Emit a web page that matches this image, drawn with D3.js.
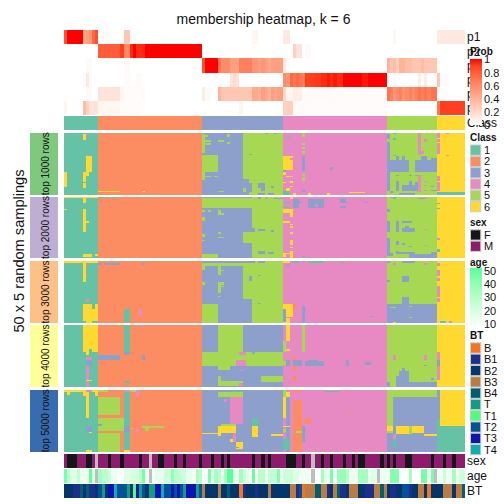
<!DOCTYPE html>
<html><head><meta charset="utf-8">
<script src="https://cdn.jsdelivr.net/npm/d3@7"></script>
<style>html,body{margin:0;padding:0;background:#fff}svg{display:block}text{font-family:"Liberation Sans",Arial,sans-serif;fill:#111}</style>
</head><body><svg id="c" width="504" height="504"></svg>
<script>
const classNames=["1","2","3","4","5","6"];
const classColors=["#66C2A5","#FC8D62","#8DA0CB","#E78AC3","#A6D854","#FFD92F"];
const classSizes=[11,33,26,33,16,9];
const blockNames=["top 1000 rows","top 2000 rows","top 3000 rows","top 4000 rows","top 5000 rows"];
const blockColors=["#7FC97F","#BEAED4","#FDC086","#FFFF99","#386CB0"];
const Z=v=>v; 
const p1=[.85,1,1,1,1,1,.45,.5,.55,.75,.85,
0,0,0,0,0,0,0,0,.3,.3,0,0,0,0,0,0,0,0,0,0,0,0,0,0,0,0,0,0,0,0,0,0,0,
0,0,0,0,0,0,0,0,0,0,0,0,0,0,0,0,.05,.05,0,0,0,0,0,0,0,0,
.12,.12,0,0,0,0,0,0,0,0,0,0,0,0,0,0,0,0,0,0,0,0,0,0,0,0,0,0,0,0,0,0,0,
0,0,.05,0,0,0,0,0,0,0,0,0,0,0,0,0,
.12,.12,.12,.12,.12,.12,.12,.12,.12];
const p2=[0,0,0,0,0,0,0,0,0,0,0,
.8,.8,.8,.8,.8,.8,.8,.9,.6,.6,.95,1,.95,.95,.95,1,1,1,1,1,1,1,1,1,1,1,1,1,1,1,1,1,1,
0,0,0,0,0,0,0,0,0,0,0,0,0,0,0,0,0,0,0,0,0,0,0,0,0,0,
0,0,0,.25,.15,.15,0,.03,.03,0,0,0,0,0,0,0,0,0,0,0,0,0,0,0,0,0,0,0,0,0,0,0,0,
0,0,0,0,0,0,0,0,0,0,0,0,0,0,0,0,
0,0,0,0,0,0,0,0,0];
const p3=[0,0,0,0,0,0,0,.03,.03,0,0,
0,0,0,0,0,0,0,0,.03,.03,0,0,0,0,0,0,0,0,0,0,0,0,0,0,0,0,0,0,0,0,0,0,0,
.85,1,1,1,1,.7,.6,.6,.6,.5,.5,.5,.65,.65,.65,.65,.55,.55,.5,.55,.5,.45,.5,.5,.5,.5,
.1,.03,0,0,0,0,0,0,0,0,0,0,0,0,0,0,0,0,0,0,0,0,0,0,0,0,0,0,0,0,0,0,0,
.4,.3,.35,.25,.4,.4,.35,.35,.3,.3,.3,.35,.3,.3,.3,.3,
.03,0,0,0,0,0,0,0,0];
const p4=[0,0,0,0,0,0,0,.12,.02,0,0,
0,0,0,0,0,0,0,0,.02,.02,0,0,.03,.03,0,0,0,0,0,0,0,0,0,0,0,0,0,0,0,0,0,0,0,
0,0,0,0,0,0,0,0,0,.15,.2,.15,0,0,0,0,0,0,0,0,0,0,0,0,0,0,
.6,.55,.75,.7,.75,.7,.65,.9,.9,.9,.92,.92,.95,.95,.98,.95,.98,.95,.95,1,1,1,1,1,1,.98,.98,1,1,1,1,1,1,
0,0,.02,0,0,0,0,0,0,0,.1,0,.1,0,0,0,
.3,.02,.02,.02,0,0,0,0,0];
const p5=[0,0,0,0,0,0,0,.03,.03,0,0,
.15,.15,.15,.15,.15,.15,.15,.05,.02,.02,.02,.02,.02,.02,.03,0,0,0,0,0,0,0,0,0,0,0,0,0,0,0,0,0,0,
.1,.03,.03,0,0,.4,.3,.3,.3,.3,.3,.3,.3,.3,.3,.3,.45,.45,.4,.5,.45,.4,.5,.45,.5,.5,
.2,.05,.05,.1,.1,.1,.01,.03,.03,.03,.03,.03,.03,.03,.03,.03,.02,.02,.02,.02,.02,.02,.02,.02,.02,.02,.02,.02,.02,.02,.02,.02,.02,
.7,.65,.55,.6,.65,.55,.6,.65,.6,.65,.7,.65,.7,.65,.7,.7,
.02,0,0,0,0,0,0,0,0];
const p6=[.05,0,0,0,0,0,.35,.25,.15,.15,.15,
.05,.05,.05,.05,.05,.05,.05,.02,.02,.02,.02,.02,.02,.02,0,0,0,0,0,0,0,0,0,0,0,0,0,0,0,0,0,0,0,
0,0,0,0,0,0,0,0,0,0,0,0,.05,0,0,0,0,0,0,0,0,0,0,0,0,0,
.25,.25,.25,.03,.03,.03,.03,.02,.02,.02,.02,.02,.02,.02,.02,.02,.02,.02,.02,.02,.02,.02,.02,.02,.02,.02,.02,.02,.02,.02,.02,.02,.02,
.01,.01,0,0,0,0,0,0,0,0,0,0,0,0,0,0,
.7,.9,.9,.9,.9,.9,.9,.9,.9];
const probRows=[p1,p2,p3,p4,p5,p6];
const probNames=["p1","p2","p3","p4","p5","p6"];

// [class, firstColumn, endColumn, firstRow, endRow]
const cells1=[[6,6,7,1,6],[4,7,8,1,2],[4,7,8,18,19],[6,7,9,19,32],[6,6,8,32,35],[6,6,7,35,40],[6,6,7,41,45],[6,0,1,32,44],
[6,11,18,47,48],[6,25,26,47,48],
[5,44,45,1,16],[5,45,46,2,3],[5,45,47,6,7],[5,45,47,8,10],[5,49,51,6,7],[5,52,53,1,3],[5,52,53,7,9],[5,44,49,18,32],[5,44,45,32,38],[5,45,47,35,36],[5,48,49,35,36],[5,49,51,47,48],
[5,57,70,0,37],[5,59,70,37,50],[5,57,58,45,48],
[3,64,65,0,1],[3,67,68,0,1],[3,59,60,17,18],[3,59,60,41,48],[3,62,64,41,45],[3,66,67,43,45],[3,63,64,45,47],[3,62,64,49,50],[3,65,67,49,50],
[6,70,73,19,30],[4,72,73,20,22],[3,70,71,30,32],[6,70,71,32,34],[6,71,73,35,36],[6,72,73,39,41],[6,72,73,43,44],[6,70,71,40,41],[6,71,72,45,48],[1,71,72,3,4],[1,70,72,47,50],[6,73,74,49,50],[6,78,79,49,50],[6,84,85,49,50],[6,91,96,48,49],
[5,76,77,0,3],[5,76,77,8,10],[5,76,77,11,13],[5,76,77,15,17],[3,76,77,19,31],[5,76,77,33,35],[5,76,77,36,39],[3,76,77,46,48],[3,85,86,28,30],
[3,103,104,1,5],[3,103,104,7,47],[1,105,106,0,1],[1,105,106,4,6],[1,105,106,18,19],[4,113,114,0,18],[4,115,116,5,7],[4,114,115,15,17],[4,113,114,34,48],[4,115,116,39,40],[4,115,116,42,43],[4,115,116,46,47],
[3,103,110,22,32],[3,106,107,19,22],[3,108,109,19,22],[3,112,119,22,32],[3,114,116,19,22],[3,117,119,20,22],[3,106,107,39,47],[3,108,113,42,47],[3,110,111,39,42],[3,112,113,40,42],[3,106,107,34,35],[3,110,111,34,35],[3,112,113,34,35],[3,117,119,46,47],[3,117,118,43,44],[3,104,105,47,49],[3,107,112,49,50],
[4,119,120,0,4],[4,119,120,5,7],[4,119,120,8,17],[4,119,120,35,39],[4,119,120,40,47],[4,122,123,0,1],[4,122,123,18,19],[1,119,128,48,50]];
const cells2=[[6,0,11,0,1],[1,11,18,0,1],[1,25,26,0,1],[6,6,7,1,5],[6,0,1,10,11],[6,6,7,10,29],[6,7,8,20,21],[6,6,9,47,49],[6,10,11,47,48],
[5,44,60,1,9],[5,44,45,11,12],[5,46,47,11,12],[5,49,50,11,13],[5,49,51,13,15],[5,44,45,16,20],[5,44,45,30,33],[5,49,50,29,30],[5,44,45,35,36],[5,49,51,33,34],[5,57,60,29,38],[5,44,49,47,50],
[5,60,70,0,50],[3,62,63,0,2],[3,64,65,1,2],[3,67,70,1,2],[3,59,60,20,21],[3,59,61,25,29],[3,62,64,26,28],[3,66,67,27,29],[3,59,60,40,45],[3,62,64,44,47],[3,65,67,45,47],
[6,70,73,10,13],[6,72,73,13,16],[1,70,72,4,5],[1,70,72,8,9],[6,70,72,20,21],[6,72,73,22,23],[6,72,73,24,25],[6,72,73,29,30],[6,72,73,35,39],[6,72,73,41,42],[6,70,72,46,47],[6,72,73,44,50],[6,72,73,0,2],[6,70,71,47,49],[2,73,74,48,49],[3,76,77,48,49],
[3,73,75,2,9],[3,75,76,4,5],[3,78,83,2,9],[4,80,81,6,8],[3,88,90,2,5],[3,88,90,7,9],[3,90,91,4,5],[3,96,97,4,5],
[3,103,104,10,12],[3,103,104,20,29],[3,103,104,34,46],[1,105,106,0,2],[3,104,105,0,1],[3,113,115,1,2],[4,115,116,0,2],[3,108,111,20,21],[3,108,112,25,29],[3,109,110,24,25],[4,115,116,26,27],[4,115,116,39,40],[3,106,107,20,29],[3,106,107,36,39],[3,108,109,38,39],[3,110,111,40,41],[3,106,107,44,46],[3,107,112,45,47],[3,103,105,46,48],[3,106,109,46,47],[3,110,119,47,50],
[1,119,120,5,6],[1,119,120,9,10],[4,119,120,34,35],[1,119,120,43,45],[3,117,119,45,50]];
const cells3=[[6,0,11,0,2],[6,6,7,2,17],[4,7,8,3,4],[4,7,8,11,12],[4,7,8,31,33],[6,6,11,35,48],[1,9,10,35,39],[6,7,9,48,50],
[3,11,12,2,3],[3,13,18,2,3],[3,25,26,2,3],[1,19,21,39,49],[4,24,25,39,45],
[5,44,60,2,4],[5,44,45,4,7],[5,49,50,4,11],[5,50,51,7,8],[5,44,45,17,19],[5,49,50,17,26],[5,50,51,17,19],[5,50,51,20,21],[5,49,50,28,29],[5,44,49,35,50],[5,57,60,3,31],
[5,60,70,0,50],[3,59,61,0,2],[3,62,64,0,2],[3,59,60,12,16],[3,62,63,11,12],[3,59,60,31,34],[3,62,63,34,35],
[1,73,75,0,2],[1,76,77,0,1],[1,78,83,0,2],[1,88,89,1,2],[6,70,72,0,2],[3,71,72,3,4],[2,73,74,28,29],[6,70,73,35,39],[2,73,74,35,39],[3,70,71,39,49],[6,71,73,39,45],[6,71,72,46,50],[6,70,71,49,50],[3,76,77,36,50],[3,98,99,44,45],
[3,103,104,0,2],[3,108,112,0,2],[4,105,106,2,3],[4,115,116,2,3],[3,103,104,15,17],[3,108,110,12,17],[3,108,110,29,35],[3,103,119,35,50],[5,104,106,37,38],[5,110,111,36,37],[5,110,111,45,46],[6,105,106,49,50],
[4,119,120,2,4],[4,119,120,7,12],[4,119,120,14,16],[4,119,120,20,29],[4,119,120,30,33],[1,120,122,48,50],[4,123,124,48,50]];
const cells4=[[6,6,11,0,22],[6,7,8,22,24],[1,8,9,19,22],[4,7,9,26,28],[3,7,9,28,33],[4,7,8,33,50],[6,7,9,44,45],
[1,19,21,0,22],[3,19,21,22,24],[4,24,25,0,2],[3,11,18,24,28],[3,25,26,24,28],[1,19,21,45,47],
[5,49,57,0,22],[5,44,70,22,33],[4,56,58,22,24],[4,55,58,28,33],[5,49,53,33,36],[4,56,57,36,37],[5,49,50,41,45],[5,49,57,45,49],[4,56,57,47,49],
[3,60,70,0,22],[1,60,61,22,23],[3,60,63,35,50],[5,63,70,41,46],[3,63,70,46,50],[3,60,70,46,50],
[6,71,72,0,13],[6,71,72,19,21],[5,70,71,13,22],[3,71,72,28,33],[5,70,71,29,32],[2,73,74,25,28],[2,73,74,33,37],[2,73,74,41,46],[3,73,76,28,33],[3,77,83,29,33],[3,78,81,28,29],[3,90,91,28,33],[3,96,98,30,32],[5,76,77,0,22],
[4,105,106,24,28],[4,115,116,24,28],[3,115,116,32,33],[3,107,110,37,45],[3,108,109,35,37],[3,106,107,41,45],[3,117,118,43,44],[3,106,110,45,47],[3,110,119,46,50],[3,103,104,46,50],[3,106,110,47,50],
[4,119,120,22,28],[3,119,120,28,33],[4,119,120,33,44]];
const cells5=[[6,0,7,0,2],[6,1,2,2,4],[6,6,8,2,5],[6,7,8,5,23],[6,9,11,0,2],[6,10,11,2,5],[4,7,9,0,2],[4,7,8,29,32],[3,7,9,29,34],[6,8,9,34,35],[6,7,9,49,50],
[5,11,18,6,20],[5,11,14,0,2],[5,11,19,23,29],[3,11,12,28,29],[5,11,19,29,33],[5,11,18,35,50],
[1,19,21,0,50],[4,19,21,0,2],[3,19,21,29,34],[6,19,21,49,50],[4,23,24,0,6],[4,23,24,32,35],[5,21,23,0,2],[5,21,22,31,32],[5,25,32,29,31],[5,26,27,31,33],
[5,49,57,2,6],[1,53,57,1,2],[4,51,52,7,10],[4,53,57,6,28],[4,54,55,35,42],[6,49,55,29,35],[5,50,55,28,29],[6,44,49,35,36],[6,49,50,35,37],[6,53,54,40,42],[6,55,57,42,48],[3,55,56,46,47],
[1,60,62,23,29],[6,60,62,29,38],[6,66,70,36,37],
[5,70,71,0,6],[6,71,72,2,6],[6,70,71,6,23],[3,71,72,6,50],[2,73,76,6,50],[4,73,76,6,8],[2,73,76,0,2],[6,70,72,29,30],[5,70,71,32,34],[1,70,72,40,49],[5,74,76,33,35],[3,76,77,29,42],[2,77,79,23,28],[1,83,88,1,2],[2,90,91,18,19],
[3,105,119,6,50],[5,105,119,2,6],[5,103,105,0,29],[6,103,105,29,33],[5,103,105,33,35],[3,103,105,35,50],[4,105,106,36,40],[1,105,106,40,47],
[6,106,110,29,36],[5,110,111,29,36],[6,111,115,29,35],[6,115,119,36,37],[1,119,120,23,29],[4,119,120,29,32],[3,119,120,0,23],[1,119,128,29,50]];
const blockCells=[cells1,cells2,cells3,cells4,cells5];

const sexCodes="MFFFMMMFFM"+"NMMMFMMMFM"+"MMMMFMMNMM"+"FFMMMFMMFM"+"MMMFMMMFMM"+"FMFMMMMMMM"+"FMMFMFMMMM"+"MFFFMMFMMN"+"MMFMMFMMMF"+"MMFMFFMMMM"+"MFMFMFMMMF"+"FMMMMMMFMM"+"MFMMFMMM";
const ageValues=[45,30,20,20,28,15,15,15,48,20,null,35,30,30,25,15,15,10,10,20,20,22,22,22,30,45,15,null,12,18,18,18,25,25,40,30,30,25,25,18,18,12,35,30,12,12,45,20,35,30,15,35,50,50,20,15,35,25,20,12,
48,12,30,30,15,28,28,28,42,15,25,25,25,20,20,15,15,15,15,null,10,10,35,20,15,45,12,38,38,38,30,15,15,15,35,35,35,15,20,20,null,15,15,15,42,42,42,12,12,12,35,10,10,10,45,45,15,45,null,15,15,25,15,15,35,15,25,25];
const btValues=["B2","B2","B2","B1","B1","B4","B2","B4","B1","B1","B2","T2","T","B2","T3","T3","T4","T2","T2","T2","T","B2","T1","T3","T","T2","B2","T","T","T3","T3","T4","T2","T2","T3","T2","T3","T2","T","T3","T3","T3","T","T2","B3","B2","B2","B2","B2","B3","B2","B2","B4","B2","B2","B2","B","B1","B2","B2","B2","B1","B2","B2","B2","B3","B2","B2","B2","B2","B2","B2","B3","B3","B1","T2","B","B3","B3","B3","B4","B4","B3","B3","B1","B2","B3","B4","B1","B1","B2","B3","B3","B3","B2","B2","B1","B1","B1","B3","B3","B4","B3","B2","B1","B1","B2","B2","T2","T2","B1","B2","B2","B3","B3","B2","B","B2","B2","B2","B2","B3","B3","B3","B2","B3","B3","B4"];
const btNames=["B","B1","B2","B3","B4","T","T1","T2","T3","T4"];
const btColors=["#F37521","#1C2F8F","#04356B","#B97D43","#005F73","#129D82","#4DFF7A","#035199","#0F13B5","#11ACAC"];
const sexNames=["F","M"];
const sexColors=["#141719","#8F1B6D"];
const naColor="#BEBEBE";
const ageTicks=[10,20,30,40,50];
const probTicks=[0,0.2,0.4,0.6,0.8,1];

const svg=d3.select("#c");
const nCols=d3.sum(classSizes);
const cols=d3.range(nCols);
const x=d3.scaleBand().domain(cols).range([64,465]);
const probColor=d3.scaleLinear().domain([0,1]).range(["#ffffff","#ff0000"]).interpolate(d3.interpolateLab);
const ageColor=d3.scaleLinear().domain([10,50]).range(["#ffffff","#55FF99"]).interpolate(d3.interpolateLab);
const classColor=d3.scaleOrdinal(classNames.map(Number),classColors);
const btColor=d3.scaleOrdinal(btNames,btColors);
const sexColor=d3.scaleOrdinal(sexNames,sexColors);
const baseClass=[];classSizes.forEach((n,i)=>{for(let k=0;k<n;k++)baseClass.push(i+1)});

function strip(y0,y1,colorOf){
  const g=svg.append("g").attr("shape-rendering","crispEdges");
  g.selectAll("rect").data(cols).join("rect")
   .attr("x",c=>x(c)).attr("width",x.bandwidth()+.01).attr("y",y0).attr("height",y1-y0).attr("fill",colorOf);
}
const probBand=d3.scaleBand().domain(probNames).range([30,115]);
probRows.forEach((row,i)=>{
  const n=probNames[i];
  strip(probBand(n),probBand(n)+probBand.bandwidth(),c=>probColor(row[c]));
});
strip(116,130,c=>classColor(baseClass[c]));

const blockY=[[133,194.5],[197,258],[261,323],[325,387],[390,451.5]];
blockCells.forEach((cells,b)=>{
  const rows=d3.range(50);
  const y=d3.scaleBand().domain(rows).range(blockY[b]);
  const m=rows.map(()=>baseClass.slice());
  cells.forEach(([k,c0,c1,r0,r1])=>{for(let r=r0;r<r1;r++)for(let c=c0;c<c1;c++)m[r][c]=k});
  const runs=[];
  rows.forEach(r=>{let s=0;for(let c=1;c<=nCols;c++){if(c===nCols||m[r][c]!==m[r][s]){runs.push({r,s,e:c,k:m[r][s]});s=c}}});
  svg.append("g").attr("shape-rendering","crispEdges").selectAll("rect").data(runs).join("rect")
   .attr("x",d=>x(d.s)).attr("width",d=>x(d.e-1)+x.bandwidth()-x(d.s))
   .attr("y",d=>y(d.r)).attr("height",y.bandwidth()+.01).attr("fill",d=>classColor(d.k));
  svg.append("rect").attr("x",30).attr("width",28).attr("y",blockY[b][0]).attr("height",blockY[b][1]-blockY[b][0]).attr("fill",blockColors[b]).attr("shape-rendering","crispEdges");
});
blockNames.forEach((t,b)=>{
  const cy=(blockY[b][0]+blockY[b][1])/2;
  svg.append("text").attr("transform",`translate(49,${cy}) rotate(-90)`).attr("text-anchor","middle").attr("font-size",10).text(t);
});
svg.append("text").attr("transform","translate(24,251) rotate(-90)").attr("text-anchor","middle").attr("font-size",14.6).text("50 x 5 random samplings");
svg.append("text").attr("x",263.5).attr("y",23.5).attr("text-anchor","middle").attr("font-size",14).text("membership heatmap, k = 6");

strip(454,468,c=>{const s=sexCodes[c];return s==="N"?naColor:sexColor(s)});
strip(469,483,c=>ageValues[c]==null?naColor:ageColor(ageValues[c]));
strip(484,498,c=>btColor(btValues[c]));

function label(t,y,size=12){svg.append("text").attr("x",467).attr("y",y).attr("dy","0.36em").attr("font-size",size).text(t)}
probNames.forEach(n=>label(n,probBand(n)+probBand.bandwidth()/2));
label("Class",123);
label("sex",461);label("age",476);label("BT",491);

// legends
function title(t,y){svg.append("text").attr("x",470).attr("y",y).attr("dy","0.36em").attr("font-size",10).attr("font-weight","bold").text(t)}
function ticks(t,y){svg.append("text").attr("x",484).attr("y",y).attr("dy","0.36em").attr("font-size",11).text(t)}
const defs=svg.append("defs");
function grad(id,scale,dom){
  const g=defs.append("linearGradient").attr("id",id).attr("x1",0).attr("y1",1).attr("x2",0).attr("y2",0);
  d3.range(0,1.001,.1).forEach(t=>g.append("stop").attr("offset",t).attr("stop-color",scale(dom[0]+t*(dom[1]-dom[0]))));
}
grad("gp",probColor,[0,1]);grad("ga",ageColor,[10,50]);
title("Prob",51.5);
const probY=d3.scaleLinear().domain([0,1]).range([125,59.5]);
svg.append("rect").attr("x",470).attr("width",12).attr("y",59).attr("height",66).attr("fill","url(#gp)");
probTicks.forEach(t=>ticks(String(t),probY(t)));

function swatches(names,colors,top,step){
  names.forEach((n,i)=>{
    svg.append("rect").attr("x",470.5).attr("y",top+i*step+.5).attr("width",step-1).attr("height",step-1).attr("fill",colors[i]).attr("stroke","#ccc").attr("stroke-width",1);
    ticks(n,top+i*step+step/2);
  });
}
title("Class",137);
swatches(classNames,classColors,144.5,11.3);
title("sex",222);
swatches(sexNames,sexColors,229.3,11.3);
title("age",262);
const ageY=d3.scaleLinear().domain([10,50]).range([324,271]);
svg.append("rect").attr("x",470).attr("width",12).attr("y",268).attr("height",60).attr("fill","url(#ga)");
ageTicks.forEach(t=>ticks(String(t),ageY(t)));
title("BT",335);
swatches(btNames,btColors,342.3,11.3);
</script></body></html>
